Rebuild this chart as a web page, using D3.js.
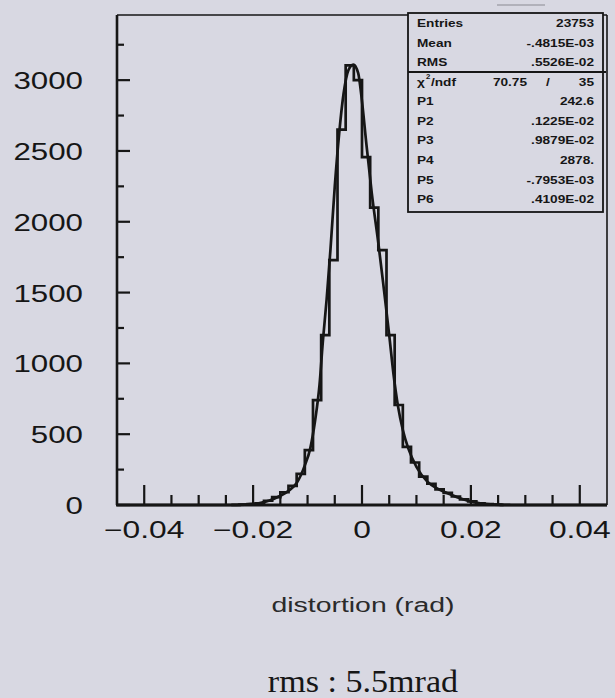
<!DOCTYPE html>
<html>
<head>
<meta charset="utf-8">
<script src="https://cdn.jsdelivr.net/npm/d3@7"></script>
<style>
  body { margin: 0; background: #d8d8e2; }
  svg { display: block; }
</style>
</head>
<body>
<svg id="mainsvg" width="615" height="698"></svg>
<script>

const WIDTH = 615, HEIGHT = 698
const MARGIN = {left: 117, right: 8, top: 15, bottom: 193}
const INK = "#161616"
const BG = "#d8d8e2"

// histogram definition: 60 bins from -0.045 to 0.045
const X_MIN = -0.045, X_MAX = 0.045, N_BINS = 60
const Y_MAX = 3460

// bin contents
const binCounts = [
    0, 0, 0, 0, 0, 0, 0, 0, 0, 0,
    0, 0, 0, 0, 0, 3, 6, 12, 30, 55,
    90, 135, 220, 388, 741, 1200, 1729, 2650, 3105, 3000,
    2456, 2100, 1800, 1200, 706, 410, 300, 200, 150, 110,
    85, 60, 40, 25, 12, 6, 3, 1, 0, 0,
    0, 0, 0, 0, 0, 0, 0, 0, 0, 0
]

// fitted curve, points
const fitX = [-0.024, -0.021, -0.019, -0.017, -0.015, -0.0135, -0.012, -0.0105, -0.0095, -0.0086,
    -0.0078, -0.0072, -0.0065, -0.0058, -0.005, -0.0042, -0.0034, -0.0025, -0.0016, -0.0007,
    0.000, 0.0008, 0.0018, 0.003, 0.004, 0.005, 0.0058, 0.0066, 0.0075, 0.0085,
    0.010, 0.012, 0.014, 0.0156, 0.018, 0.0205, 0.023, 0.026]
const fitY = [1, 5, 12, 32, 65, 100, 155, 280, 400, 600,
    850, 1150, 1450, 1800, 2250, 2620, 2900, 3070, 3110, 3050,
    2850, 2550, 2200, 1850, 1530, 1200, 920, 700, 530, 400,
    270, 165, 112, 85, 48, 20, 6, 1]

// axes
const xMajorTicks = [-0.04, -0.02, 0, 0.02, 0.04]
const xMinorTicks = [-0.04, -0.035, -0.03, -0.025, -0.02, -0.015, -0.01, -0.005, 0,
    0.005, 0.01, 0.015, 0.02, 0.025, 0.03, 0.035, 0.04]
const yMajorTicks = [0, 500, 1000, 1500, 2000, 2500, 3000]
const yMinorTicks = [250, 750, 1250, 1750, 2250, 2750, 3250]
const xTitle = "distortion (rad)"
const caption = "rms : 5.5mrad"

// stats box
const statLabels = ["Entries", "Mean", "RMS"]
const statValues = ["23753", "-.4815E-03", ".5526E-02"]
const fitLabels = ["P1", "P2", "P3", "P4", "P5", "P6"]
const fitValues = ["242.6", ".1225E-02", ".9879E-02", "2878.", "-.7953E-03", ".4109E-02"]
const chi2 = ["70.75", "35"]

let svg = d3.select("#mainsvg")
svg.append("rect").attr("width", WIDTH).attr("height", HEIGHT).attr("fill", BG)

let x = d3.scaleLinear().domain([X_MIN, X_MAX]).range([MARGIN.left, WIDTH - MARGIN.right])
let y = d3.scaleLinear().domain([0, Y_MAX]).range([HEIGHT - MARGIN.bottom, MARGIN.top])

// the scan is stretched sideways, so text gets a horizontal scale
function addText (g, px, py, str, opt) {
    return g.append("text")
    .attr("transform", `translate(${px}, ${py}) scale(${opt.sx || 1}, 1)`)
    .attr("text-anchor", opt.anchor || "start")
    .attr("font-family", opt.family || "'Liberation Sans', Arial, sans-serif")
    .attr("font-size", opt.size)
    .attr("font-weight", opt.weight || "normal")
    .attr("fill", opt.fill || INK)
    .text(str)
}

function renderAxes () {
    let g = svg.append("g").attr("id", "axes")
    let x0 = x.range()[0], x1 = x.range()[1]
    let y0 = y.range()[0], y1 = y.range()[1]

    // frame
    g.append("line").attr("x1", x0).attr("x2", x1).attr("y1", y1).attr("y2", y1)
    .attr("stroke", INK).attr("stroke-width", 1.6)
    g.append("line").attr("x1", x1).attr("x2", x1).attr("y1", y1).attr("y2", y0)
    .attr("stroke", INK).attr("stroke-width", 1.6)
    g.append("line").attr("x1", x0).attr("x2", x0).attr("y1", y1).attr("y2", y0)
    .attr("stroke", INK).attr("stroke-width", 2.6)
    g.append("line").attr("x1", x0 - 1).attr("x2", x1).attr("y1", y0).attr("y2", y0)
    .attr("stroke", INK).attr("stroke-width", 3)

    // x ticks point up into the frame
    g.selectAll(".xminor")
    .data(xMinorTicks)
    .enter()
    .append("line")
    .attr("class", "xminor")
    .attr("x1", d => x(d)).attr("x2", d => x(d))
    .attr("y1", y0).attr("y2", d => xMajorTicks.includes(d) ? y0 - 20 : y0 - 10)
    .attr("stroke", INK).attr("stroke-width", 2.2)

    // y ticks point right into the frame
    g.selectAll(".ymajor")
    .data(yMajorTicks)
    .enter()
    .append("line")
    .attr("class", "ymajor")
    .attr("x1", x0).attr("x2", x0 + 13)
    .attr("y1", d => y(d)).attr("y2", d => y(d))
    .attr("stroke", INK).attr("stroke-width", 2.2)

    g.selectAll(".yminor")
    .data(yMinorTicks)
    .enter()
    .append("line")
    .attr("class", "yminor")
    .attr("x1", x0).attr("x2", x0 + 7)
    .attr("y1", d => y(d)).attr("y2", d => y(d))
    .attr("stroke", INK).attr("stroke-width", 2.2)

    let xfmt = d => d === 0 ? "0" : d3.format(".2f")(d).replace("-", "\u2212")
    xMajorTicks.forEach(d => {
        addText(g, x(d), 538, xfmt(d), {size: 23, anchor: "middle", sx: 1.38})
    })
    yMajorTicks.forEach(d => {
        addText(g, 83, y(d) + 9, String(d), {size: 23, anchor: "end", sx: 1.36})
    })

    addText(g, 363, 612, xTitle, {size: 20, anchor: "middle", sx: 1.42, fill: "#2a2a2a"})
    addText(g, 363, 692, caption, {size: 31, anchor: "middle", sx: 1.1,
        family: "'Liberation Serif', 'Times New Roman', serif"})
}

function renderHistogram () {
    let g = svg.append("g").attr("id", "hist")
    let binW = (X_MAX - X_MIN) / N_BINS

    // outline of the bins as one stepped path
    let pts = []
    binCounts.forEach((c, i) => {
        let lo = X_MIN + i * binW
        pts.push([x(lo), y(c)])
        pts.push([x(lo + binW), y(c)])
    })
    g.append("path")
    .attr("d", d3.line()(pts))
    .attr("fill", "none")
    .attr("stroke", INK)
    .attr("stroke-width", 2.7)
    .attr("stroke-linejoin", "miter")

    let fitPts = fitX.map((d, i) => [d, fitY[i]])
    g.append("path")
    .datum(fitPts)
    .attr("d", d3.line().x(d => x(d[0])).y(d => y(d[1])).curve(d3.curveMonotoneX))
    .attr("fill", "none")
    .attr("stroke", INK)
    .attr("stroke-width", 2.7)
}

function renderStats () {
    let g = svg.append("g").attr("id", "stats")
    let bx0 = 408, bx1 = 603, by0 = 13, by1 = 212, split = 72
    let rowsA = [23, 43, 62]
    let rowsB = [101, 121, 140, 160, 180, 199]

    g.append("rect")
    .attr("x", bx0).attr("y", by0).attr("width", bx1 - bx0).attr("height", by1 - by0)
    .attr("fill", BG).attr("stroke", INK).attr("stroke-width", 1.8)
    g.append("line")
    .attr("x1", bx0).attr("x2", bx1 + 3).attr("y1", split).attr("y2", split)
    .attr("stroke", INK).attr("stroke-width", 1.8)
    // short mark above the box
    g.append("line")
    .attr("x1", 497).attr("x2", 545).attr("y1", 5).attr("y2", 5)
    .attr("stroke", "#8a8a92").attr("stroke-width", 1.2)

    let opt = {size: 10.5, weight: "bold", sx: 1.3}
    statLabels.forEach((d, i) => {
        addText(g, 417, rowsA[i] + 4, d, opt)
        addText(g, 594, rowsA[i] + 4, statValues[i], Object.assign({anchor: "end"}, opt))
    })

    addText(g, 417, 86, "\u03c7", opt)
    addText(g, 426, 79, "2", {size: 6.5, weight: "bold", sx: 1.2})
    addText(g, 431, 86, "/ndf", opt)
    addText(g, 527, 86, chi2[0], Object.assign({anchor: "end"}, opt))
    addText(g, 548, 86, "/", Object.assign({anchor: "middle"}, opt))
    addText(g, 594, 86, chi2[1], Object.assign({anchor: "end"}, opt))

    fitLabels.forEach((d, i) => {
        addText(g, 417, rowsB[i] + 4, d, opt)
        addText(g, 594, rowsB[i] + 4, fitValues[i], Object.assign({anchor: "end"}, opt))
    })
}

function renderMainFig () {
    renderAxes()
    renderHistogram()
    renderStats()
}

renderMainFig()
</script>
</body>
</html>
